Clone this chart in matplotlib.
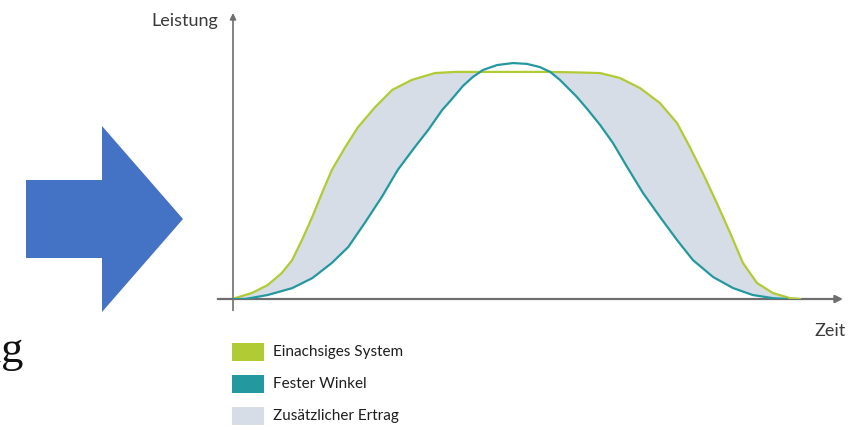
import numpy as np
import matplotlib
matplotlib.use("Agg")
import matplotlib.pyplot as plt
from matplotlib.patches import Polygon, Rectangle

# ---------------- data (time 0..100, power 0..100) ----------------
t_einachsig = [0, 0.3, 3.1, 5.7, 8.0, 9.7, 11.3, 13.0, 14.6, 16.2, 18.4, 20.5, 23.3,
               26.1, 29.3, 33.1, 36.4, 41.0, 52.0, 56.9, 60.2, 63.4, 66.7, 70.0,
               72.8, 74.9, 77.0, 79.3, 81.5, 83.6, 85.9, 88.5, 91.3, 93.0]
p_einachsig = [0, 0.3, 2.1, 4.9, 9.1, 13.6, 20.6, 28.7, 37.1, 45.1, 53.1, 60.1, 67.1,
               73.1, 76.6, 79.0, 79.4, 79.4, 79.4, 79.2, 79.0, 77.3, 73.8, 68.5,
               61.5, 53.1, 44.1, 33.6, 23.1, 12.6, 5.6, 2.1, 0.3, 0]

t_fest = [0, 2.0, 5.7, 9.7, 13.0, 16.2, 18.9, 21.6, 24.4, 27.0, 29.8, 32.0, 34.3,
          35.6, 37.7, 39.3, 41.0, 43.3, 45.9, 48.2, 50.3, 52.0, 53.6, 56.4, 58.2,
          60.2, 62.3, 64.6, 67.2, 70.0, 72.8, 75.4, 78.7, 82.0, 85.2, 88.5, 90.8]
p_fest = [0, 0, 1.4, 3.8, 7.3, 12.6, 18.2, 26.6, 35.7, 45.1, 53.1, 59.1, 66.1,
          69.2, 74.5, 77.6, 80.1, 81.8, 82.5, 82.2, 81.1, 79.4, 76.6, 70.6, 66.1,
          60.8, 54.5, 46.2, 37.1, 28.7, 20.6, 13.6, 7.7, 3.8, 1.4, 0.3, 0]

legend_labels = ["Einachsiges System", "Fester Winkel", "Zusätzlicher Ertrag"]
axis_labels = ["Leistung", "Zeit"]
side_text = "ng"

# ---------------- styles ----------------
C_GREEN = "#b1cb34"
C_TEAL = "#23989f"
C_FILL = "#d6dde6"
C_AXIS = "#6e6e6e"
C_ARROW = "#4472c4"
W, H = 864, 430

fig = plt.figure(figsize=(W / 100, H / 100), dpi=100)

# overlay axes in pixel coordinates for decorations
ov = fig.add_axes([0, 0, 1, 1])
ov.set_xlim(0, W)
ov.set_ylim(H, 0)
ov.axis("off")

# chart axes
x0, x1, y0, y1 = 233, 843, 299, 13
ax = fig.add_axes([x0 / W, (H - y0) / H, (x1 - x0) / W, (y0 - y1) / H])
ax.set_xlim(0, 100)
ax.set_ylim(0, 100)
ax.patch.set_visible(False)
for s in ax.spines.values():
    s.set_visible(False)
ax.set_xticks([])
ax.set_yticks([])

tg = np.array(t_einachsig); pg = np.array(p_einachsig)
tf = np.array(t_fest); pf = np.array(p_fest)
grid = np.union1d(tg, tf)
g_on = np.interp(grid, tg, pg)
f_on = np.interp(grid, tf, pf)
ax.fill_between(grid, g_on, f_on, where=g_on >= f_on, interpolate=True,
                color=C_FILL, lw=0, zorder=1)
ax.plot(tg, pg, color=C_GREEN, lw=1.6, solid_joinstyle="round",
        solid_capstyle="round", zorder=3)
ax.plot(tf, pf, color=C_TEAL, lw=1.6, solid_joinstyle="round",
        solid_capstyle="round", zorder=4)

# axes with arrows
ax.annotate("", xy=(100, 0), xytext=(-2.5, 0),
            arrowprops=dict(arrowstyle="-|>", color=C_AXIS, lw=1.6,
                            mutation_scale=11, shrinkA=0, shrinkB=0),
            annotation_clip=False, zorder=2)
ax.annotate("", xy=(0, 100), xytext=(0, -4),
            arrowprops=dict(arrowstyle="-|>", color=C_AXIS, lw=1.2,
                            mutation_scale=9, shrinkA=0, shrinkB=0),
            annotation_clip=False, zorder=2)

font = ["Lato", "DejaVu Sans"]
ov.text(218, 21, axis_labels[0], ha="right", va="center", fontsize=13,
        family=font, color="#3a3a3a")
ov.text(846, 331, axis_labels[1], ha="right", va="center", fontsize=13,
        family=font, color="#3a3a3a")

# legend
leg_colors = [C_GREEN, C_TEAL, C_FILL]
leg_tops = [343, 375, 407]
for lab, col, top in zip(legend_labels, leg_colors, leg_tops):
    ov.add_patch(Rectangle((232, top), 32, 18, color=col, lw=0))
    ov.text(273, top + 9, lab, ha="left", va="center", fontsize=11,
            family=font, color="#1e1e1e")

# big blue arrow
ov.add_patch(Polygon([(26, 180), (102, 180), (102, 126), (183, 219),
                      (102, 312), (102, 258), (26, 258)],
                     closed=True, color=C_ARROW, lw=0))

# partially cut text at left edge
ov.text(23, 362, side_text, ha="right", va="baseline", fontsize=32,
        family=["Liberation Serif", "DejaVu Serif"], color="#111111")

fig.savefig("out.png", dpi=100)
